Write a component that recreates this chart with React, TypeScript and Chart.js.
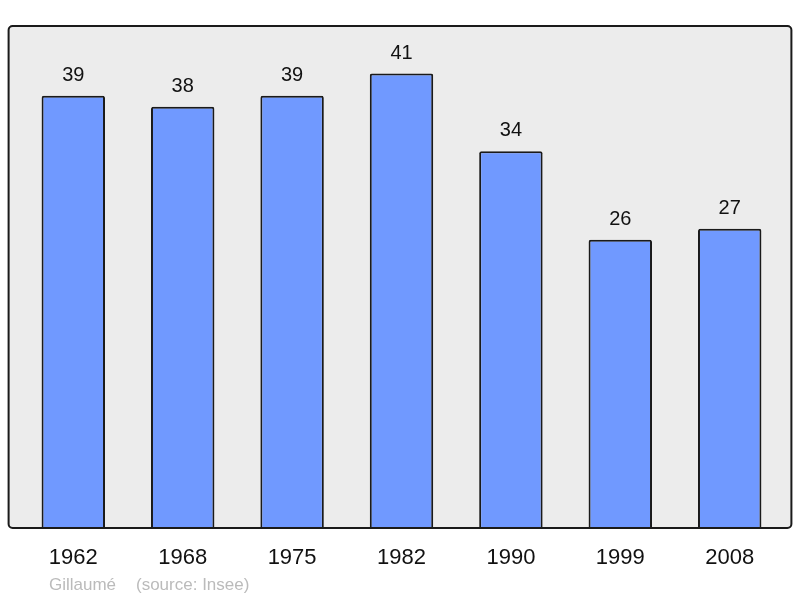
import { useEffect, useRef } from 'react';
import { Chart, registerables, type Plugin } from 'chart.js';

Chart.register(...registerables);

const years = ['1962', '1968', '1975', '1982', '1990', '1999', '2008'];
const population = [39, 38, 39, 41, 34, 26, 27];
const yMax = 45.2;
const credit = 'Gillaumé';
const source = '(source: Insee)';

const FONT = '"Liberation Sans", Arial, sans-serif';

function roundRect(ctx: CanvasRenderingContext2D, x: number, y: number, w: number, h: number, r: number) {
  ctx.beginPath();
  ctx.moveTo(x + r, y);
  ctx.lineTo(x + w - r, y);
  ctx.arcTo(x + w, y, x + w, y + r, r);
  ctx.lineTo(x + w, y + h - r);
  ctx.arcTo(x + w, y + h, x + w - r, y + h, r);
  ctx.lineTo(x + r, y + h);
  ctx.arcTo(x, y + h, x, y + h - r, r);
  ctx.lineTo(x, y + r);
  ctx.arcTo(x, y, x + r, y, r);
  ctx.closePath();
}

// grey panel behind the bars, border drawn on top of them
const panelPlugin: Plugin<'bar'> = {
  id: 'panel',
  beforeDatasetsDraw(chart) {
    const { ctx, chartArea: a } = chart;
    ctx.save();
    roundRect(ctx, a.left - 10, a.top - 1, a.right - a.left + 17, a.bottom - a.top + 1, 4);
    ctx.fillStyle = '#ececec';
    ctx.fill();
    ctx.restore();
  },
  afterDatasetsDraw(chart) {
    const { ctx, chartArea: a } = chart;
    ctx.save();
    roundRect(ctx, a.left - 10, a.top - 1, a.right - a.left + 17, a.bottom - a.top + 1, 4);
    ctx.lineWidth = 2;
    ctx.strokeStyle = '#1a1a1a';
    ctx.stroke();

    // values above bars
    const meta = chart.getDatasetMeta(0);
    ctx.fillStyle = '#111';
    ctx.font = `20px ${FONT}`;
    ctx.textAlign = 'center';
    ctx.textBaseline = 'alphabetic';
    meta.data.forEach((bar, i) => {
      ctx.fillText(String(population[i]), bar.x, bar.y - 15);
    });

    // footer
    ctx.fillStyle = '#bbbbbb';
    ctx.font = `17px ${FONT}`;
    ctx.textAlign = 'left';
    ctx.fillText(credit, 49, 590);
    ctx.fillText(source, 136, 590);
    ctx.restore();
  },
};

export default function App() {
  const canvasRef = useRef<HTMLCanvasElement>(null);

  useEffect(() => {
    document.body.style.margin = '0';
    if (!canvasRef.current) return;
    const chart = new Chart(canvasRef.current, {
      type: 'bar',
      data: {
        labels: years,
        datasets: [
          {
            data: population,
            backgroundColor: '#7099ff',
            borderColor: '#1a1a1a',
            borderWidth: 2,
            borderRadius: 2,
            borderSkipped: 'bottom',
            categoryPercentage: 1,
            barPercentage: 0.58,
          },
        ],
      },
      options: {
        animation: false,
        responsive: false,
        devicePixelRatio: 1,
        layout: { padding: { left: 18.6, right: 15.6, top: 27, bottom: 0 } },
        plugins: { legend: { display: false }, tooltip: { enabled: false } },
        scales: {
          x: {
            grid: { display: false, drawTicks: false },
            border: { display: false },
            ticks: { color: '#111', font: { size: 22, family: FONT }, padding: 17 },
            afterFit: (scale) => {
              scale.height = 70;
            },
          },
          y: { display: false, min: 0, max: yMax },
        },
      },
      plugins: [panelPlugin],
    });
    return () => chart.destroy();
  }, []);

  return (
    <div style={{ width: 800, height: 598, background: '#fff' }}>
      <canvas ref={canvasRef} width={800} height={598} style={{ display: 'block' }} />
    </div>
  );
}
